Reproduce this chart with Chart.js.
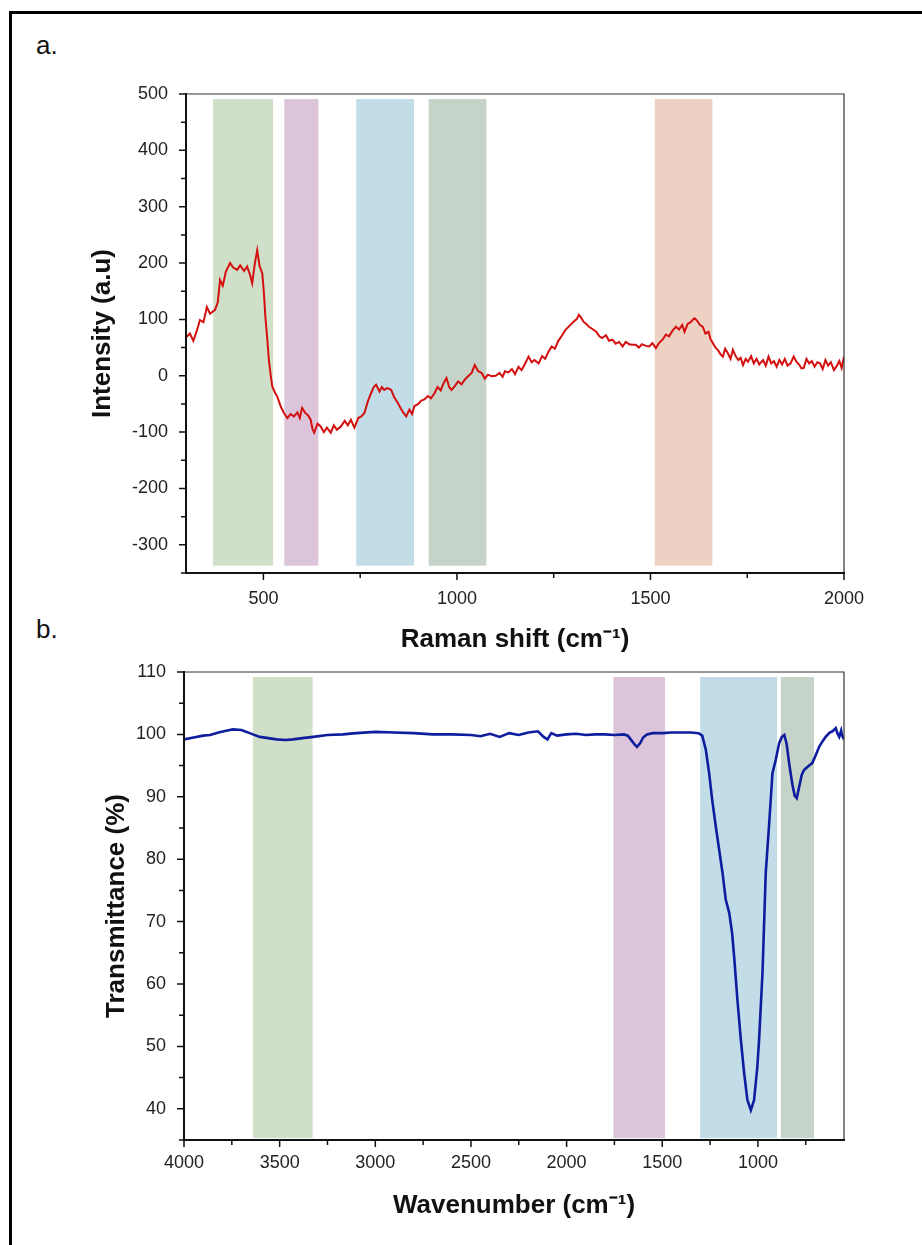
<!DOCTYPE html>
<html>
<head>
<meta charset="utf-8">
<script src="https://cdn.jsdelivr.net/npm/chart.js@4.4.1/dist/chart.umd.min.js"></script>
<style>
  html, body { margin: 0; padding: 0; background: #fff; overflow: hidden; }
  body { width: 922px; height: 1245px; position: relative; font-family: Arial, "Liberation Sans", sans-serif; }
  .frame { position: absolute; left: 9px; top: 11px; width: 2000px; height: 2000px;
           border-top: 3px solid #000; border-left: 3px solid #000; }
  .panel { position: absolute; left: 36px; font-size: 26px; color: #111; }
  canvas { position: absolute; left: 0; }
</style>
</head>
<body>
<div class="frame"></div>
<div class="panel" style="top:30px">a.</div>
<div class="panel" style="top:614px">b.</div>
<canvas id="ramanChart" width="922" height="655" style="top:0"></canvas>
<canvas id="ftirChart" width="922" height="605" style="top:640px"></canvas>
<script>
/*
    Raman spectrum (a)
*/
var ramanShift = [300, 310, 319, 328, 336, 345, 354, 362, 375, 382, 388, 395, 403, 414, 422, 432, 440, 450, 458, 465,
    471, 478, 484, 490, 497, 501, 505, 510, 514, 519, 523, 530, 536, 545, 553, 562, 570, 579, 588, 594,
    600, 608, 615, 622, 627, 631, 640, 648, 656, 664, 674, 682, 690, 700, 710, 718, 726, 735, 745, 753,
    761, 770, 778, 785, 791, 800, 806, 812, 820, 830, 838, 847, 855, 862, 869, 877, 884, 890, 900, 908,
    916, 925, 933, 942, 950, 958, 965, 973, 980, 986, 995, 1003, 1012, 1020, 1030, 1038, 1046, 1055, 1064, 1072,
    1080, 1090, 1100, 1110, 1118, 1124, 1133, 1142, 1150, 1159, 1167, 1175, 1185, 1193, 1200, 1211, 1220, 1228, 1236, 1245,
    1253, 1262, 1270, 1280, 1290, 1300, 1310, 1315, 1320, 1327, 1334, 1341, 1350, 1360, 1368, 1375, 1385, 1393, 1402, 1410,
    1419, 1428, 1436, 1445, 1453, 1462, 1470, 1478, 1488, 1497, 1505, 1514, 1522, 1531, 1540, 1548, 1557, 1566, 1574, 1582,
    1588, 1596, 1604, 1610, 1614, 1620, 1628, 1635, 1642, 1650, 1655, 1661, 1668, 1675, 1681, 1687, 1693, 1700, 1707, 1713,
    1720, 1727, 1733, 1739, 1746, 1752, 1760, 1767, 1774, 1781, 1791, 1798, 1805, 1812, 1819, 1826, 1833, 1840, 1847, 1854,
    1862, 1870, 1877, 1884, 1890, 1896, 1903, 1910, 1917, 1924, 1931, 1938, 1945, 1952, 1959, 1966, 1974, 1981, 1988, 1994, 2000];
var ramanIntensity = [68, 75, 62, 80, 99, 95, 122, 110, 117, 130, 170, 160, 185, 200, 192, 188, 196, 186, 194, 180,
    164, 200, 223, 195, 182, 150, 105, 65, 28, 0, -19, -30, -37, -55, -66, -75, -68, -72, -65, -75,
    -57, -66, -70, -78, -95, -101, -85, -90, -100, -92, -101, -88, -96, -90, -80, -88, -78, -92, -75, -72,
    -66, -45, -31, -20, -16, -28, -20, -25, -22, -25, -38, -48, -58, -66, -72, -60, -68, -54, -50, -44,
    -42, -36, -40, -31, -20, -26, -14, -4, -20, -25, -18, -10, -15, -7, 0, 5, 19, 8, 5, -5,
    2, -1, 0, 5, -2, 8, 6, 12, 3, 16, 10, 20, 34, 24, 28, 22, 35, 30, 42, 52,
    48, 62, 70, 81, 88, 95, 101, 108, 104, 96, 92, 87, 83, 78, 70, 67, 72, 62, 64, 57,
    60, 52, 60, 56, 55, 55, 50, 56, 53, 52, 58, 49, 58, 64, 73, 70, 80, 87, 82, 90,
    78, 92, 95, 100, 102, 98, 90, 87, 75, 78, 65, 58, 50, 45, 38, 34, 48, 40, 30, 46,
    35, 28, 32, 19, 30, 25, 35, 22, 30, 20, 28, 18, 34, 22, 26, 16, 28, 20, 30, 18,
    22, 34, 25, 20, 13, 14, 30, 22, 26, 16, 24, 22, 12, 28, 18, 24, 10, 17, 26, 14, 34];
var ramanBandFrom = [370, 554, 740, 927, 1511];
var ramanBandTo = [525, 642, 889, 1076, 1660];
var ramanBandTop = 491;
var ramanBandBottom = -337;
var ramanXTicks = [500, 1000, 1500, 2000];

/*
    FTIR spectrum (b)
*/
var wavenumber = [4000, 3950, 3900, 3864, 3820, 3780, 3744, 3700, 3673, 3640, 3603, 3560, 3516, 3470, 3430, 3380, 3325, 3250, 3169, 3100,
    3000, 2900, 2800, 2700, 2600, 2500, 2450, 2400, 2350, 2300, 2250, 2200, 2150, 2120, 2100, 2080, 2050, 2000, 1950, 1900,
    1850, 1800, 1750, 1700, 1680, 1660, 1645, 1632, 1615, 1600, 1580, 1550, 1500, 1450, 1400, 1350, 1310, 1291, 1272, 1255,
    1239, 1220, 1185, 1168, 1150, 1135, 1124, 1107, 1089, 1072, 1055, 1037, 1020, 1003, 994, 976, 959, 941, 924, 907,
    889, 875, 862, 850, 835, 820, 808, 797, 785, 771, 759, 740, 716, 700, 680, 660, 646, 625, 610, 593,
    585, 575, 565, 560, 555, 550];
var transmittance = [99.2, 99.5, 99.8, 99.9, 100.3, 100.6, 100.8, 100.7, 100.4, 100.0, 99.6, 99.4, 99.2, 99.1, 99.2, 99.4, 99.6, 99.9, 100.0, 100.2,
    100.4, 100.3, 100.2, 100.0, 100.0, 99.9, 99.7, 100.1, 99.6, 100.2, 99.9, 100.3, 100.5, 99.6, 99.2, 100.2, 99.8, 100.0, 100.1, 99.9,
    100.0, 100.0, 99.9, 100.0, 99.8, 99.0, 98.4, 98.0, 98.6, 99.5, 100.0, 100.2, 100.2, 100.3, 100.3, 100.3, 100.2, 99.8, 97.5, 93.8,
    89.5, 85.2, 77.8, 73.5, 71.4, 68.2, 64.3, 57.4, 51.0, 45.7, 41.4, 39.8, 41.4, 46.7, 51.0, 61.8, 77.8, 85.8, 93.8, 95.9,
    98.6, 99.6, 99.9, 98.5, 95.0, 92.0, 90.2, 89.8, 91.5, 93.5, 94.3, 94.8, 95.4, 96.5, 98.0, 99.0, 99.6, 100.3, 100.5, 101.0,
    100.2, 99.6, 100.6, 99.8, 99.5, 99.8];
var ftirBandFrom = [3640, 1755, 1302, 880];
var ftirBandTo = [3328, 1485, 900, 707];
var ftirBandTop = 109.2;
var ftirBandBottom = 35.3;
var ftirXTicks = [1000, 1500, 2000, 2500, 3000, 3500, 4000];

var ramanBandColors = ['#cfdfc8', '#dcc5da', '#c2dce8', '#c6d3c8', '#edd2c4'];
var ftirBandColors = ['#cfdfc8', '#dcc5da', '#c2dce8', '#c6d3c8'];

Chart.defaults.font.family = 'Arial, "Liberation Sans", sans-serif';
Chart.defaults.color = '#222';

/* shaded bands behind the line */
var bandsPlugin = {
    id: 'bands',
    beforeDatasetsDraw: function (chart, args, opts) {
        var ctx = chart.ctx, x = chart.scales.x, y = chart.scales.y;
        ctx.save();
        for (var i = 0; i < opts.from.length; i++) {
            var x1 = x.getPixelForValue(opts.from[i]);
            var x2 = x.getPixelForValue(opts.to[i]);
            var y1 = y.getPixelForValue(opts.top);
            var y2 = y.getPixelForValue(opts.bottom);
            ctx.fillStyle = opts.colors[i];
            ctx.fillRect(Math.min(x1, x2), y1, Math.abs(x2 - x1), y2 - y1);
        }
        ctx.restore();
    }
};

/* box frame plus major / minor ticks pointing out */
var framePlugin = {
    id: 'frame',
    afterDraw: function (chart, args, opts) {
        var ctx = chart.ctx, a = chart.chartArea, x = chart.scales.x, y = chart.scales.y;
        ctx.save();
        ctx.strokeStyle = '#333';
        ctx.lineWidth = 1.2;
        ctx.beginPath();
        ctx.moveTo(a.left, a.top); ctx.lineTo(a.right, a.top); ctx.lineTo(a.right, a.bottom);
        ctx.stroke();
        ctx.strokeStyle = '#111';
        ctx.lineWidth = 2;
        ctx.beginPath();
        ctx.moveTo(a.left, a.top - 1); ctx.lineTo(a.left, a.bottom); ctx.lineTo(a.right + 1, a.bottom);
        ctx.stroke();
        ctx.lineWidth = 1.5;
        ctx.beginPath();
        var v, p, len;
        var xs = Math.min(x.min, x.max), xe = Math.max(x.min, x.max);
        for (v = Math.ceil(xs / opts.xMinor) * opts.xMinor; v <= xe; v += opts.xMinor) {
            p = x.getPixelForValue(v);
            len = (v % opts.xMajor === 0) ? 7 : 5;
            ctx.moveTo(p, a.bottom); ctx.lineTo(p, a.bottom + len);
        }
        for (v = Math.ceil(y.min / opts.yMinor) * opts.yMinor; v <= y.max; v += opts.yMinor) {
            p = y.getPixelForValue(v);
            len = (Math.abs(v % opts.yMajor) < 1e-6) ? 7 : 5;
            ctx.moveTo(a.left, p); ctx.lineTo(a.left - len, p);
        }
        ctx.stroke();
        ctx.restore();
    }
};

function toPoints(xs, ys) {
    return xs.map(function (v, i) { return {x: v, y: ys[i]}; });
}

function plainLabel(v) { return String(v); }

/*
    Chart a
*/
var ctxA = document.getElementById('ramanChart').getContext('2d');
var ramanChart = new Chart(ctxA, {
    type: 'scatter',
    data: {
        datasets: [{
            data: toPoints(ramanShift, ramanIntensity),
            showLine: true,
            borderColor: '#d40f0f',
            borderWidth: 2,
            pointRadius: 0,
            tension: 0
        }]
    },
    options: {
        responsive: false,
        animation: false,
        layout: { padding: { left: 0, right: 78, top: 94, bottom: 0 } },
        plugins: {
            legend: { display: false },
            tooltip: { enabled: false },
            bands: { from: ramanBandFrom, to: ramanBandTo, top: ramanBandTop, bottom: ramanBandBottom, colors: ramanBandColors },
            frame: { xMajor: 500, xMinor: 250, yMajor: 100, yMinor: 50 }
        },
        scales: {
            x: {
                type: 'linear', min: 300, max: 2000,
                grid: { display: false }, border: { display: false },
                afterBuildTicks: function (s) { s.ticks = ramanXTicks.map(function (v) { return {value: v}; }); },
                ticks: { padding: 7, font: { size: 18 }, maxRotation: 0, callback: plainLabel },
                title: { display: true, text: 'Raman shift (cm⁻¹)', color: '#111', font: { size: 26, weight: 'bold' }, padding: { top: 0, bottom: 0 } },
                afterFit: function (s) { s.height = 82; }
            },
            y: {
                type: 'linear', min: -350, max: 500,
                grid: { display: false }, border: { display: false },
                ticks: { stepSize: 100, includeBounds: false, padding: 10, font: { size: 18 }, callback: plainLabel },
                title: { display: true, text: 'Intensity (a.u)', color: '#111', font: { size: 26, weight: 'bold' }, padding: { top: 87, bottom: 0 } },
                afterFit: function (s) { s.width = 186; }
            }
        }
    },
    plugins: [bandsPlugin, framePlugin]
});

/*
    Chart b
*/
var ctxB = document.getElementById('ftirChart').getContext('2d');
var ftirChart = new Chart(ctxB, {
    type: 'scatter',
    data: {
        datasets: [{
            data: toPoints(wavenumber, transmittance),
            showLine: true,
            borderColor: '#0e1c9e',
            borderWidth: 2.6,
            pointRadius: 0,
            tension: 0
        }]
    },
    options: {
        responsive: false,
        animation: false,
        layout: { padding: { left: 0, right: 78, top: 32, bottom: 0 } },
        plugins: {
            legend: { display: false },
            tooltip: { enabled: false },
            bands: { from: ftirBandFrom, to: ftirBandTo, top: ftirBandTop, bottom: ftirBandBottom, colors: ftirBandColors },
            frame: { xMajor: 500, xMinor: 250, yMajor: 10, yMinor: 5 }
        },
        scales: {
            x: {
                type: 'linear', min: 550, max: 4000, reverse: true,
                grid: { display: false }, border: { display: false },
                afterBuildTicks: function (s) { s.ticks = ftirXTicks.map(function (v) { return {value: v}; }); },
                ticks: { padding: 4, font: { size: 18 }, maxRotation: 0, callback: plainLabel },
                title: { display: true, text: 'Wavenumber (cm⁻¹)', color: '#111', font: { size: 26, weight: 'bold' }, padding: { top: 0, bottom: 24 } },
                afterFit: function (s) { s.height = 105; }
            },
            y: {
                type: 'linear', min: 35, max: 110,
                grid: { display: false }, border: { display: false },
                ticks: { stepSize: 10, includeBounds: false, padding: 10, font: { size: 18 }, callback: plainLabel },
                title: { display: true, text: 'Transmittance (%)', color: '#111', font: { size: 26, weight: 'bold' }, padding: { top: 101, bottom: 0 } },
                afterFit: function (s) { s.width = 184; }
            }
        }
    },
    plugins: [bandsPlugin, framePlugin]
});
</script>
</body>
</html>
